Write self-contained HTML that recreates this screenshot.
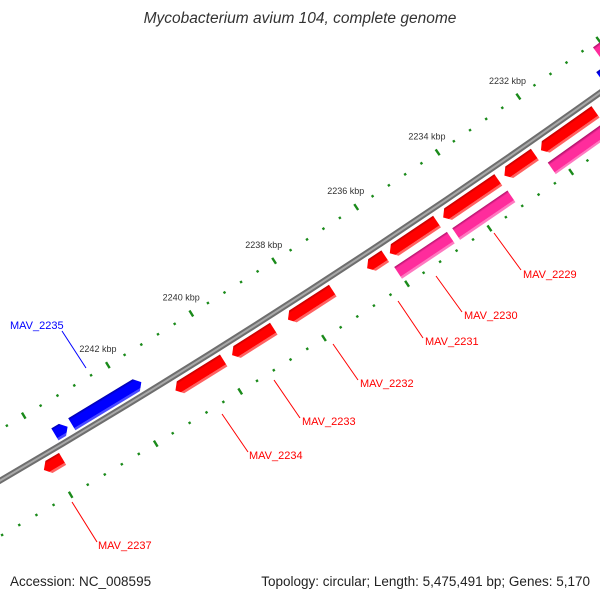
<!DOCTYPE html>
<html><head><meta charset="utf-8"><style>
html,body{margin:0;padding:0;background:#fff;width:600px;height:600px;overflow:hidden;}
svg{display:block;font-family:"Liberation Sans","DejaVu Sans",sans-serif;}
</style></head><body>
<svg id="map" width="600" height="600" viewBox="0 0 600 600">
<defs id="defs"></defs>
<text x="300" y="23" text-anchor="middle" font-size="15.5" font-style="italic" fill="#333">Mycobacterium avium 104, complete genome</text>
<g id="ruler"></g>
<g id="backbone"></g>
<g id="features"></g>
<g id="labels"></g>
<text x="10" y="586" font-size="13.5" fill="#222">Accession: NC_008595</text>
<text x="590" y="586" text-anchor="end" font-size="13.5" fill="#222">Topology: circular; Length: 5,475,491 bp; Genes: 5,170</text>
</svg>
<script>
// ---- data (kbp) ----
const redStarts = [2243.77, 2239.95, 2238.75, 2237.33, 2236.06, 2234.80, 2233.30, 2232.40, 2230.90];
const redEnds   = [2244.21, 2241.10, 2239.75, 2238.41, 2236.50, 2235.95, 2234.65, 2233.15, 2232.25];
const pinkStarts = [2234.75, 2233.27, 2229.00];
const pinkEnds   = [2236.03, 2234.62, 2232.28];
const blueStarts = [2241.60, 2243.35, 2228.00];
const blueEnds   = [2243.25, 2243.65, 2230.42];
const pinkRevStarts = [2228.00];
const pinkRevEnds   = [2230.18];
const majorTicks = [2226,2228,2230,2232,2234,2236,2238,2240,2242,2244,2246,2248];
const tickLabels = ["","","","2232 kbp","2234 kbp","2236 kbp","2238 kbp","2240 kbp","2242 kbp","","",""];

const NS="http://www.w3.org/2000/svg";
const CX=-3936, CY=-6265;
const R_BB=7810, R_TOP=7766, R_BOT=7858;
function ang(k){return (55+(k-2232)*0.362)*Math.PI/180;}
function pt(r,k){const a=ang(k);return [CX+r*Math.cos(a),CY+r*Math.sin(a)];}
function mk(tag,attrs,parent){const e=document.createElementNS(NS,tag);for(const k in attrs)e.setAttribute(k,attrs[k]);parent.appendChild(e);return e;}
const defs=document.getElementById('defs');
let gid=0;

// ruler
const ruler=document.getElementById('ruler');
function tick(r,k,len,w){
  const a=pt(r-len/2,k),b=pt(r+len/2,k);
  const l=mk('line',{x1:a[0],y1:a[1],x2:b[0],y2:b[1],stroke:'#1a8a1a','stroke-width':w},ruler);
  
  
}
for(let i=0;i<majorTicks.length;i++){
  const k=majorTicks[i];
  [R_TOP,R_BOT].forEach(r=>{
    tick(r,k,7,2.4);
    for(let j=1;j<5;j++) tick(r,k+j*0.4,2.4,2.4);
  });
  if(tickLabels[i]){
    const p=pt(R_TOP-19,k);
    const t=mk('text',{x:p[0],y:p[1]+3,'text-anchor':'middle','font-size':'9',fill:'#333'},ruler);
    t.textContent=tickLabels[i];
    
    
  }
}

// backbone
const bb=document.getElementById('backbone');
const b1=pt(R_BB,2225),b2=pt(R_BB,2250);
const d=`M${b1[0]},${b1[1]} A${R_BB},${R_BB} 0 0 1 ${b2[0]},${b2[1]}`;
mk('path',{d:d,fill:'none',stroke:'#6e6e6e','stroke-width':6},bb);
mk('path',{d:d,fill:'none',stroke:'#a8a8a8','stroke-width':2},bb);

// features
const fg=document.getElementById('features');
function feature(s,e,r0,r1,dir,cDark,cMain,cLight,name){
  const rc=(r0+r1)/2,h=0.12;
  let pts;
  if(dir>0) pts=[pt(r0,s),pt(r1,s),pt(r1,e-h),pt(rc,e),pt(r0,e-h)];
  else if(dir<0) pts=[pt(r0,e),pt(r1,e),pt(r1,s+h),pt(rc,s),pt(r0,s+h)];
  else pts=[pt(r0,s),pt(r1,s),pt(r1,e),pt(r0,e)];
  const km=(s+e)/2,pi=pt(r0,km),po=pt(r1,km);
  const id='g'+(gid++);
  const g=mk('linearGradient',{id:id,gradientUnits:'userSpaceOnUse',x1:pi[0],y1:pi[1],x2:po[0],y2:po[1]},defs);
  mk('stop',{offset:'0',  'stop-color':cDark},g);
  mk('stop',{offset:'0.18','stop-color':cMain},g);
  mk('stop',{offset:'0.8','stop-color':cMain},g);
  mk('stop',{offset:'0.82','stop-color':cLight},g);
  mk('stop',{offset:'1','stop-color':cLight},g);
  const p=mk('polygon',{points:pts.map(q=>q[0].toFixed(2)+','+q[1].toFixed(2)).join(' '),fill:`url(#${id})`},fg);
  
  
}
for(let i=0;i<redStarts.length;i++) feature(redStarts[i],redEnds[i],7816,7830,1,'#b80000','#ff0000','#ff6262','forward-gene');
for(let i=0;i<pinkStarts.length;i++) feature(pinkStarts[i],pinkEnds[i],7837,7851,0,'#b0106a','#ff2c9c','#ff78c0','forward-orf');
for(let i=0;i<blueStarts.length;i++) feature(blueStarts[i],blueEnds[i],7791,7805,-1,'#0000a8','#0000ff','#4a4aff','reverse-gene');
for(let i=0;i<pinkRevStarts.length;i++) feature(pinkRevStarts[i],pinkRevEnds[i],7769,7783,-1,'#b0106a','#ff2c9c','#ff78c0','reverse-orf');

// labels
const lg=document.getElementById('labels');
const labs=[
 ["MAV_2235",10,329,62,331,86,368,"#0000ff"],
 ["MAV_2237",98,549,72,502,97,542,"#ff0000"],
 ["MAV_2234",249,459,222,414,248,452,"#ff0000"],
 ["MAV_2233",302,425,274,380,300,418,"#ff0000"],
 ["MAV_2232",360,387,333,344,358,380,"#ff0000"],
 ["MAV_2231",425,345,398,301,423,338,"#ff0000"],
 ["MAV_2230",464,319,436,276,462,312,"#ff0000"],
 ["MAV_2229",523,278,494,233,521,270,"#ff0000"]
];
labs.forEach(L=>{
  const ln=mk('line',{x1:L[3],y1:L[4],x2:L[5],y2:L[6],stroke:L[7],'stroke-width':1},lg);
  
  
  const t=mk('text',{x:L[1],y:L[2],'font-size':'11',fill:L[7]},lg);
  t.textContent=L[0];
  
  
});
</script>
</body></html>
